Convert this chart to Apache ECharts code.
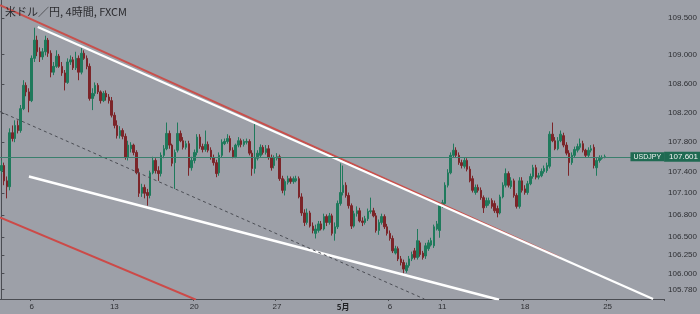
<!DOCTYPE html>
<html>
<head>
<meta charset="utf-8">
<script src="https://cdn.jsdelivr.net/npm/echarts@6/dist/echarts.min.js"></script>
<style>
html,body{margin:0;padding:0;background:#9da0a8;}
#chart{width:700px;height:314px;}
</style>
</head>
<body>
<div id="chart"></div>
<script>
// ---- data ----
var chartTitle = '米ドル／円, 4時間, FXCM';
var symbolName = 'USDJPY';
var lastPrice = 107.601;
var categoryCount = 241;
var tickIndex = [11, 41, 70, 100, 124, 141, 160, 190, 220];
var tickText = ['6', '13', '20', '27', '5月', '6', '11', '18', '25'];
var priceTicks = [109.5, 109.0, 108.6, 108.2, 107.8, 107.4, 107.1, 106.8, 106.5, 106.25, 106.0, 105.78];

var opens = [
107.41,107.48,107.27,107.19,107.93,107.85,108.03,107.96,108.26,108.58,
108.49,108.37,108.95,109.20,109.04,108.97,109.04,109.20,109.02,108.76,
108.84,108.98,108.84,108.75,108.62,108.90,108.93,108.82,108.95,108.76,
109.02,108.95,108.84,108.40,108.47,108.58,108.49,108.37,108.47,108.42,
108.37,108.17,108.03,107.89,107.96,107.88,107.59,107.71,107.76,107.66,
107.38,107.10,107.18,107.11,107.07,107.38,107.55,107.41,107.37,107.62,
107.71,107.92,107.76,107.52,107.69,107.92,107.82,107.73,107.78,107.45,
107.55,107.66,107.87,107.74,107.70,107.77,107.69,107.59,107.52,107.38,
107.62,107.78,107.81,107.85,107.69,107.60,107.76,107.82,107.77,107.80,
107.81,107.65,107.44,107.58,107.62,107.73,107.66,107.71,107.59,107.48,
107.58,107.60,107.30,107.14,107.25,107.30,107.26,107.27,107.30,107.05,
106.83,106.70,106.83,106.65,106.55,106.59,106.68,106.61,106.78,106.70,
106.79,106.55,106.64,106.96,107.11,107.21,107.07,106.93,106.65,106.82,
106.86,106.72,106.70,106.75,106.85,106.86,106.79,106.59,106.70,106.78,
106.64,106.55,106.48,106.28,106.34,106.20,106.15,106.04,106.11,106.20,
106.31,106.22,106.42,106.28,106.24,106.34,106.39,106.38,106.61,106.59,
106.93,106.96,107.21,107.38,107.62,107.69,107.62,107.52,107.47,107.55,
107.43,107.30,107.11,107.18,107.14,107.04,106.93,106.96,107.00,106.96,
106.89,106.83,107.05,107.21,107.37,107.19,107.27,107.07,106.92,107.27,
107.16,107.11,107.23,107.33,107.45,107.32,107.34,107.40,107.41,107.47,
107.91,107.82,107.71,107.82,107.89,107.76,107.65,107.52,107.62,107.69,
107.73,107.78,107.69,107.62,107.69,107.73,107.45,107.55,107.58,107.59
];
var closes = [
107.48,107.27,107.19,107.93,107.85,108.03,107.96,108.26,108.58,108.49,
108.37,108.95,109.20,109.04,108.97,109.04,109.20,109.02,108.76,108.84,
108.98,108.84,108.75,108.62,108.90,108.93,108.82,108.95,108.76,109.02,
108.95,108.84,108.40,108.47,108.58,108.49,108.37,108.47,108.42,108.37,
108.17,108.03,107.89,107.96,107.88,107.59,107.76,107.76,107.66,107.38,
107.10,107.18,107.10,107.07,107.38,107.55,107.41,107.37,107.62,107.71,
107.92,107.76,107.51,107.66,107.92,107.82,107.73,107.78,107.45,107.55,
107.66,107.87,107.74,107.70,107.77,107.69,107.59,107.52,107.37,107.62,
107.80,107.81,107.85,107.69,107.60,107.76,107.82,107.77,107.81,107.81,
107.65,107.44,107.58,107.65,107.73,107.66,107.71,107.59,107.45,107.59,
107.60,107.30,107.14,107.26,107.30,107.26,107.30,107.30,107.05,106.83,
106.70,106.83,106.65,106.59,106.61,106.68,106.61,106.78,106.70,106.79,
106.55,106.64,106.96,107.11,107.21,107.07,106.93,106.65,106.82,106.86,
106.72,106.70,106.75,106.85,106.86,106.79,106.59,106.70,106.78,106.64,
106.55,106.48,106.31,106.34,106.20,106.15,106.06,106.11,106.20,106.26,
106.22,106.45,106.26,106.22,106.38,106.42,106.45,106.64,106.68,106.93,
106.97,107.21,107.38,107.62,107.69,107.62,107.52,107.48,107.55,107.43,
107.27,107.14,107.18,107.14,107.04,106.90,107.00,107.00,106.92,106.86,
106.83,107.05,107.21,107.37,107.21,107.27,107.07,106.92,107.27,107.14,
107.11,107.23,107.33,107.45,107.32,107.34,107.40,107.44,107.48,107.91,
107.82,107.71,107.82,107.91,107.76,107.65,107.52,107.62,107.70,107.74,
107.78,107.69,107.62,107.69,107.71,107.48,107.55,107.58,107.59,107.601
];
var lows = [
107.37,107.21,107.03,107.14,107.81,107.80,107.92,107.93,108.24,108.43,
108.21,108.35,108.90,108.98,108.90,108.93,108.99,108.97,108.69,108.72,
108.82,108.82,108.71,108.51,108.60,108.86,108.79,108.79,108.65,108.73,
108.93,108.80,108.37,108.24,108.43,108.46,108.33,108.35,108.37,108.33,
108.14,107.99,107.85,107.85,107.84,107.56,107.55,107.66,107.62,107.36,
107.05,107.05,107.03,106.93,107.03,107.36,107.37,107.27,107.33,107.58,
107.69,107.71,107.47,107.16,107.66,107.80,107.70,107.70,107.34,107.41,
107.51,107.62,107.71,107.66,107.67,107.66,107.56,107.48,107.32,107.34,
107.59,107.76,107.78,107.66,107.58,107.58,107.73,107.73,107.74,107.77,
107.62,107.34,107.37,107.55,107.59,107.63,107.63,107.56,107.41,107.44,
107.55,107.27,107.10,107.07,107.22,107.23,107.23,107.25,107.03,106.79,
106.65,106.67,106.63,106.55,106.48,106.56,106.59,106.59,106.65,106.67,
106.52,106.45,106.61,106.93,107.07,107.04,106.89,106.61,106.63,106.78,
106.70,106.65,106.67,106.72,106.82,106.77,106.56,106.53,106.67,106.61,
106.52,106.45,106.28,106.26,106.17,106.11,106.00,106.01,106.08,106.17,
106.19,106.19,106.23,106.19,106.20,106.31,106.37,106.35,106.59,106.49,
106.90,106.93,107.18,107.36,107.59,107.59,107.49,107.44,107.44,107.40,
107.25,107.11,107.08,107.11,107.01,106.83,106.90,106.93,106.89,106.83,
106.77,106.81,107.03,107.18,107.18,107.16,107.04,106.89,106.89,107.11,
107.08,107.08,107.21,107.30,107.29,107.29,107.32,107.37,107.38,107.44,
107.80,107.69,107.69,107.80,107.73,107.62,107.34,107.49,107.59,107.66,
107.70,107.66,107.59,107.59,107.66,107.44,107.34,107.52,107.56,107.58
];
var highs = [
107.55,107.52,107.33,107.99,108.03,108.10,108.10,108.31,108.65,108.62,
108.54,108.99,109.37,109.26,109.10,109.09,109.26,109.23,109.06,108.90,
109.06,109.01,108.90,108.79,108.95,108.99,108.97,109.04,108.99,109.09,
109.06,108.99,108.88,108.54,108.62,108.61,108.51,108.50,108.51,108.46,
108.42,108.21,108.10,108.02,107.99,107.92,107.82,107.80,107.78,107.69,
107.44,107.23,107.22,107.16,107.41,107.60,107.58,107.47,107.66,107.76,
108.07,107.96,107.78,107.70,108.07,107.96,107.87,107.82,107.82,107.60,
107.70,107.91,107.91,107.78,107.96,107.81,107.73,107.63,107.56,107.66,
107.84,107.85,107.91,107.89,107.73,107.78,107.87,107.85,107.84,107.85,
107.84,107.69,108.06,107.69,107.77,107.76,107.76,107.76,107.63,107.62,
107.65,107.63,107.34,107.29,107.34,107.33,107.33,107.34,107.33,107.10,
106.88,106.89,106.86,106.70,106.67,106.72,106.72,106.82,106.81,106.83,
106.82,106.70,107.00,107.51,107.48,107.25,107.11,106.96,106.86,106.92,
106.90,106.77,106.79,106.89,107.04,106.90,106.83,106.74,106.82,106.81,
106.68,106.59,106.52,106.38,106.37,106.24,106.19,106.15,106.24,106.30,
106.35,106.61,106.45,106.31,106.42,106.46,106.49,106.67,106.72,106.97,
107.01,107.25,107.43,107.66,107.78,107.73,107.66,107.56,107.59,107.58,
107.47,107.34,107.22,107.22,107.18,107.07,107.04,107.04,107.03,107.00,
106.93,107.08,107.25,107.44,107.40,107.32,107.30,107.10,107.32,107.32,
107.21,107.27,107.37,107.49,107.49,107.38,107.44,107.48,107.52,107.95,
108.07,107.87,107.87,107.96,107.93,107.80,107.69,107.66,107.74,107.78,
107.85,107.82,107.71,107.73,107.76,107.77,107.59,107.62,107.62,107.63
];

// trend lines: [bar index, price]
var upperRedLine = [[-0.5, 109.68], [202.6, 106.22]];
var upperWhiteLine = [[13.2, 109.38], [236.5, 105.65]];
var lowerWhiteLine = [[10.0, 107.33], [180.6, 105.64]];
var lowerRedLine = [[-0.5, 106.77], [70.6, 105.64]];
var dashedLine = [[-0.5, 108.22], [153.5, 105.65]];

// ---- build ----
var categories = [];
for (var i = 0; i < categoryCount; i++) categories.push('');
tickIndex.forEach(function (idx, k) { categories[idx] = tickText[k]; });

var candleData = opens.map(function (o, k) {
  return [o, closes[k], lows[k], highs[k]];
});

var GREEN = '#1f7a5c';
var RED = '#7c2529';
var LABEL_BG = '#1f6a52';

function trend(data, color, width, type) {
  return {
    type: 'line', xAxisIndex: 1, yAxisIndex: 0, data: data,
    symbol: 'none', silent: true, animation: false,
    lineStyle: { color: color, width: width, type: type || 'solid' },
    z: 3
  };
}

var chart = echarts.init(document.getElementById('chart'), null, { renderer: 'canvas' });
chart.setOption({
  backgroundColor: '#9da0a8',
  animation: false,
  title: {
    text: chartTitle, left: 0, top: 1,
    textStyle: { fontSize: 11, fontWeight: 'normal', color: '#2b2b2f', fontFamily: 'Noto Sans CJK JP' }
  },
  grid: { left: 0, right: 32, top: 0, bottom: 15, containLabel: false },
  xAxis: [{
    type: 'category', data: categories, boundaryGap: true,
    axisLine: { show: true, lineStyle: { color: '#4a4c52', width: 1 } },
    axisTick: { show: true, length: 2, lineStyle: { color: '#4a4c52' },
      interval: function (idx, val) { return val !== ''; } },
    axisLabel: {
      interval: function (idx, val) { return val !== ''; },
      fontSize: 8, color: '#2e2f33', margin: 4, fontFamily: 'Liberation Sans',
      formatter: function (v) { return v === '5月' ? '{b|' + v + '}' : v; },
      rich: { b: { fontSize: 8, fontWeight: 'bold', color: '#1e1f22', fontFamily: 'Noto Sans CJK JP' } }
    },
    splitLine: { show: false }
  }, {
    type: 'value', min: -0.5, max: categoryCount - 0.5, show: false
  }],
  yAxis: [{
    type: 'value', position: 'right', min: 105.65, max: 109.75, scale: true,
    axisLine: { show: true, lineStyle: { color: '#4a4c52', width: 1 } },
    axisTick: { show: true, length: 3, customValues: priceTicks, lineStyle: { color: '#4a4c52' } },
    axisLabel: {
      customValues: priceTicks, fontSize: 8, color: '#2e2f33', margin: 4, fontFamily: 'Liberation Sans',
      formatter: function (v) { return v.toFixed(3); }
    },
    splitLine: { show: false }
  }],
  series: [
    {
      type: 'candlestick', data: candleData, xAxisIndex: 0, yAxisIndex: 0,
      barWidth: 2, z: 2,
      itemStyle: { color: GREEN, color0: RED, borderColor: GREEN, borderColor0: RED, borderWidth: 1 },
      markLine: {
        silent: true, symbol: ['none', 'none'], animation: false,
        lineStyle: { color: '#3a7f6d', width: 1, type: 'solid' },
        data: [
          { yAxis: lastPrice,
            label: { show: true, position: 'end', distance: 0, formatter: lastPrice.toFixed(3),
              backgroundColor: LABEL_BG, color: '#f2f2f2', fontSize: 8, padding: [1, 4, 1, 5], fontFamily: 'Liberation Sans' } },
          { yAxis: lastPrice,
            label: { show: true, position: 'insideEnd', distance: 0, formatter: symbolName,
              backgroundColor: LABEL_BG, color: '#f2f2f2', fontSize: 7, padding: [1, 3, 1, 3], fontFamily: 'Liberation Sans' } }
        ]
      }
    },
    trend(upperRedLine, '#c8504c', 2),
    trend(upperWhiteLine, '#ffffff', 2.2),
    trend(lowerWhiteLine, '#ffffff', 2.6),
    trend(lowerRedLine, '#cc4a48', 2),
    trend(dashedLine, '#4b4d54', 1, [3, 3])
  ]
});
</script>
</body>
</html>
